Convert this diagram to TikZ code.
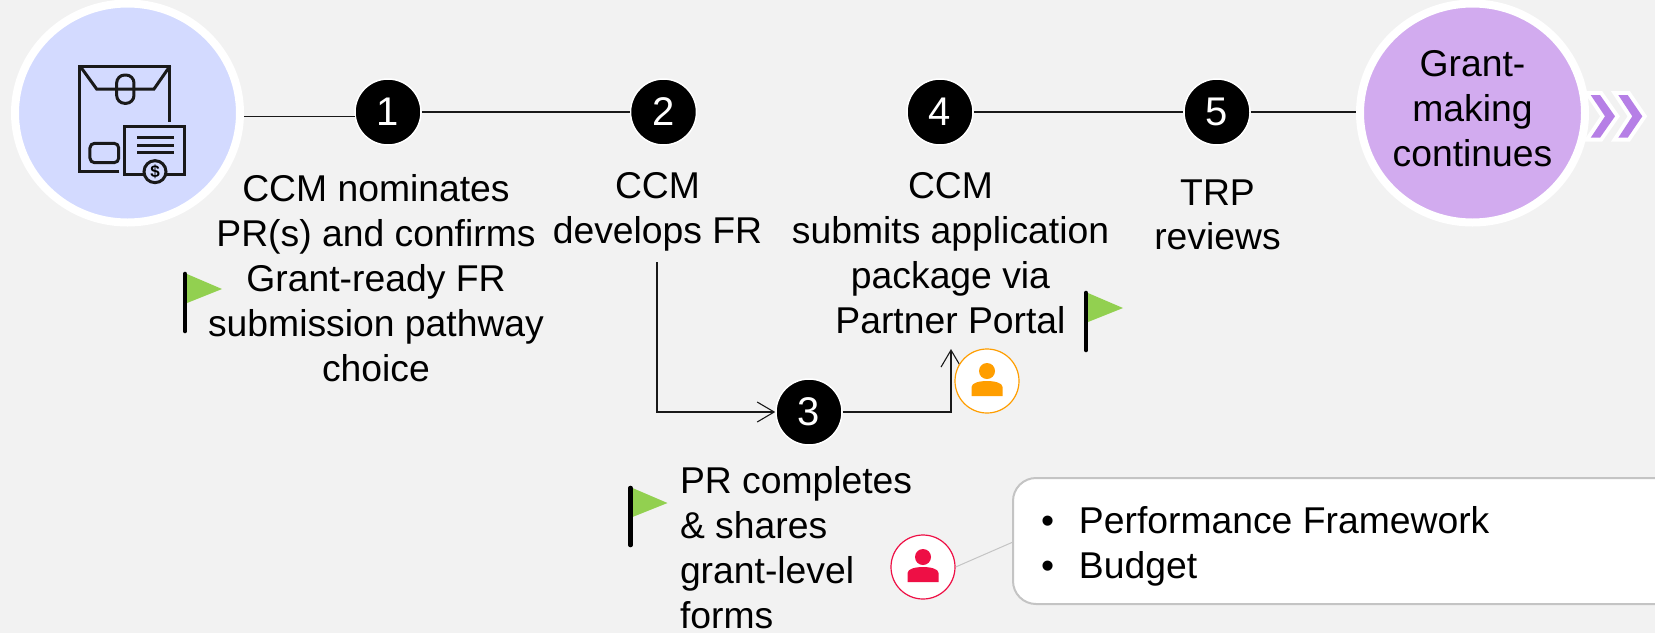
\documentclass[tikz,border=0pt]{standalone}
\usepackage{fontspec}
\setmainfont{Liberation Sans}
\usetikzlibrary{arrows.meta,shapes.geometric}
\definecolor{pagebg}{HTML}{F2F2F2}
\definecolor{iconblue}{HTML}{D3DAFF}
\definecolor{grantpurple}{HTML}{D2ABEF}
\definecolor{chevpurple}{HTML}{B67FE6}
\definecolor{flaggreen}{HTML}{92D050}
\definecolor{personorange}{HTML}{FF9E00}
\definecolor{personred}{HTML}{EE0F45}
\definecolor{boxgray}{HTML}{C4C4C4}
\tikzset{
  bigdisc/.style={ellipse,draw=white,line width=8pt,minimum width=225pt,minimum height=219pt,inner sep=0pt},
  stepdisc/.style={circle,fill=black,draw=white,line width=1.5pt,minimum size=66pt,inner sep=0pt,text=white,font=\fontsize{40}{40}\selectfont},
  persondisc/.style={circle,fill=white,line width=1.2pt,minimum size=64pt,inner sep=0pt},
  label/.style={inner sep=0pt,outer sep=0pt,anchor=north,align=center,font=\fontsize{37.3}{45}\selectfont},
  leftlabel/.style={inner sep=0pt,outer sep=0pt,anchor=north west,align=left,font=\fontsize{37.3}{45}\selectfont},
  link/.style={draw=black!90,line width=1.15pt},
  barb/.style={-{Straight Barb[length=17pt,width=20pt,line width=1.1pt]}},
  chevronback/.style={draw=white,fill=white,line width=8pt,line join=miter},
  chevronfront/.style={fill=chevpurple},
  iconline/.style={draw=black!90,line width=3pt},
  flagmark/.pic={
    \fill[flaggreen] (2,2) -- (37,17) -- (2,31) -- cycle;
    \draw[black,line width=4.6pt,line cap=round] (0,2) -- (0,59);
  },
  personmark/.pic={
    \fill[pic actions] (0,-10) circle (8);
    \fill[pic actions] (-15.5,15) -- (-15.5,6) .. controls (-15.5,2) and (-8,0) .. (0,0) .. controls (8,0) and (15.5,2) .. (15.5,6) -- (15.5,15) -- cycle;
  }
}
\begin{document}
\begin{tikzpicture}[x=1pt,y=-1pt]
\path[use as bounding box,fill=pagebg] (0,0) rectangle (1655,633);

% chevrons, behind the purple disc
\foreach \chevstyle in {chevronback,chevronfront}{
  \path[\chevstyle] (1590.7,95) -- (1600,95) -- (1615,116.3) -- (1600,137.7) -- (1590.7,137.7) -- (1605,116.3) -- cycle;
  \path[\chevstyle] (1618.3,95) -- (1627.7,95) -- (1642.3,116.3) -- (1627.7,137.7) -- (1618.3,137.7) -- (1632.3,116.3) -- cycle;
}

% main discs
\node[bigdisc,fill=iconblue] (icon) at (127.5,113) {};
\node[bigdisc,fill=grantpurple] (grant) at (1472.5,113) {};
\node[label] (tgrant) at (1472.5,50.7) {Grant-\\making\\continues};

% numbered steps
\node[stepdisc] (n1) at (388,112) {1};
\node[stepdisc] (n2) at (663.5,112) {2};
\node[stepdisc] (n3) at (809,412) {3};
\node[stepdisc] (n4) at (940,112) {4};
\node[stepdisc] (n5) at (1217,112) {5};

% connectors
\coordinate (fromtwo) at (657,262);
\coordinate (intofour) at (951,349);
\draw[link] (n1.187 -| icon.east) -- (n1.187);
\draw[link] (n1.east) -- (n2.west);
\draw[link] (n4.east) -- (n5.west);
\draw[link] (n5.east) -- (n5.east -| grant.west);
\draw[link,barb] (fromtwo) |- (n3.west);
\draw[link,barb] (n3.east) -| (intofour);

% envelope icon (coordinates are zoom pixels)
\begin{scope}[x=0.33333pt,y=-0.33333pt]
  \path[iconline,line join=miter] (358,515) -- (240,515) -- (240,198) -- (510,198) -- (510,366);
  \path[iconline] (240,198) -- (290,267) -- (462,267) -- (510,198);
  \path[iconline,rounded corners=8pt] (350,225) rectangle (402,310);
  \path[iconline,rounded corners=4.5pt] (270,430) rectangle (356,488);
  \path[iconline] (375,378) rectangle (555,522);
  \path[iconline] (412,411) -- (522,411) (412,435) -- (522,435) (412,458) -- (522,458);
  \path[iconline,fill=iconblue] (465,515) circle (33);
  \node[inner sep=0pt,font=\fontsize{17}{17}\bfseries\selectfont] (dollar) at (465,515) {\$};
\end{scope}

% texts
\node[label] (t1) at (376,174.5) {CCM nominates\\PR(s) and confirms\\Grant-ready FR\\submission pathway\\choice};
\node[label] (t2) at (657.5,172) {CCM\\develops FR};
\node[leftlabel] (t3) at (680,466) {PR completes\\\& shares\\grant-level\\forms};
\node[label] (t4) at (950.5,172.5) {CCM\\submits application\\package via\\Partner Portal};
\node[label,font=\fontsize{37.3}{43.5}\selectfont] (t5) at (1217.5,180) {TRP\\reviews};

% flags
\pic at (185,272) {flagmark};
\pic at (630.5,486) {flagmark};
\pic at (1086,291) {flagmark};

% role markers
\node[persondisc,draw=personorange] (porange) at (987,381) {};
\pic[personorange] at (porange) {personmark};
\node[persondisc,draw=personred] (pred) at (923,567) {};
\pic[personred] at (pred) {personmark};

% call-out box, running off the right edge
\coordinate (boxedge) at (1013,542);
\draw[boxgray,line width=1pt] (pred.east) -- (boxedge);
\draw[boxgray,line width=2pt,fill=white,rounded corners=23pt] (1655,478) -- (1013,478) -- (1013,604) -- (1655,604);
\node[leftlabel] (boxtext) at (1041,506) {\makebox[38pt][l]{•}Performance Framework\\\makebox[38pt][l]{•}Budget};
\end{tikzpicture}
\end{document}
